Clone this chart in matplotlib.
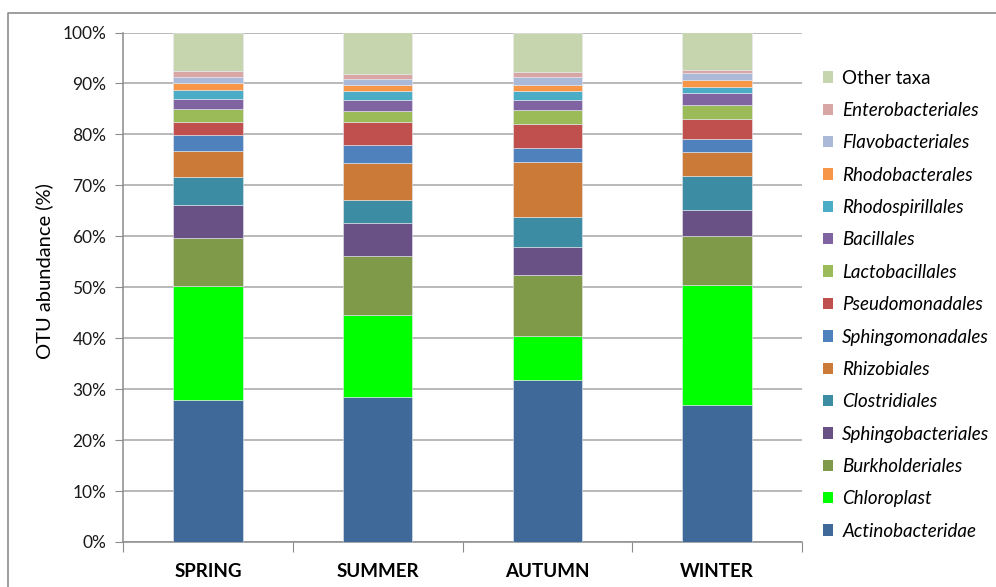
import matplotlib
matplotlib.use('Agg')
import matplotlib.pyplot as plt
import numpy as np
from matplotlib.lines import Line2D

plt.rcParams['font.family'] = ['Lato', 'DejaVu Sans']

seasons = ['SPRING', 'SUMMER', 'AUTUMN', 'WINTER']

# taxa from bottom of the stack to the top
taxa = ['Actinobacteridae', 'Chloroplast', 'Burkholderiales', 'Sphingobacteriales',
        'Clostridiales', 'Rhizobiales', 'Sphingomonadales', 'Pseudomonadales',
        'Lactobacillales', 'Bacillales', 'Rhodospirillales', 'Rhodobacterales',
        'Flavobacteriales', 'Enterobacteriales', 'Other taxa']

# OTU abundance (%) per season, same order as taxa
spring = [27.8, 22.4, 9.5, 6.4, 5.6, 5.1, 3.0, 2.6, 2.5, 2.0, 1.9, 1.2, 1.3, 1.1, 7.6]
summer = [28.5, 16.1, 11.6, 6.4, 4.5, 7.3, 3.5, 4.5, 2.1, 2.3, 1.7, 1.2, 1.2, 0.9, 8.2]
autumn = [31.8, 8.6, 12.0, 5.5, 5.9, 10.8, 2.8, 4.6, 2.7, 2.1, 1.7, 1.1, 1.7, 0.9, 7.8]
winter = [26.9, 23.5, 9.7, 5.0, 6.8, 4.6, 2.6, 3.9, 2.7, 2.4, 1.2, 1.3, 1.4, 0.7, 7.4]

colors = ['#3F6998', '#00FF00', '#7F9A48', '#695185', '#3C8DA3', '#CB7B37',
          '#4F81BD', '#C0504D', '#9BBB59', '#8064A2', '#4BACC6', '#F79646',
          '#AAB9D8', '#D9A6A6', '#C6D5AD']

data = np.array([spring, summer, autumn, winter])

W, H = 996, 587
fig = plt.figure(figsize=(W / 100, H / 100), dpi=100)

# chart frame (Excel style), left and top edge visible
fig.add_artist(Line2D([8 / W, 8 / W, 1.0], [0.0, 1 - 13 / H, 1 - 13 / H],
                      transform=fig.transFigure, color='#8C8C8C', lw=1.2))

ax = fig.add_axes([123 / W, 45 / H, (802 - 123) / W, (542 - 32.5) / H])

x = np.arange(len(seasons))
bottom = np.zeros(len(seasons))
handles = []
for i, name in enumerate(taxa):
    b = ax.bar(x, data[:, i], 0.41, bottom=bottom, color=colors[i],
               edgecolor='#E8E8F0', linewidth=0.4, label=name, zorder=3)
    handles.append(b)
    bottom += data[:, i]

ax.set_xlim(-0.5, 3.5)
ax.set_ylim(0, 100)
ax.set_yticks(np.arange(0, 101, 10))
ax.set_yticklabels([f'{v}%' for v in range(0, 101, 10)], fontsize=12.5, color='#1a1a1a')
ax.yaxis.grid(True, color='#A6A6A6', linewidth=1.1, zorder=0)
ax.set_axisbelow(True)

ax.set_xticks(np.arange(-0.5, 4, 1))
ax.set_xticklabels([])
ax.set_xticks(x, minor=True)
ax.set_xticklabels(seasons, minor=True, fontsize=13.5, fontweight='bold')
ax.tick_params(axis='x', which='minor', length=0, pad=15)
ax.tick_params(axis='x', which='major', length=7, color='#8C8C8C')
ax.tick_params(axis='y', length=6, color='#8C8C8C', pad=6)

for s in ['top', 'right']:
    ax.spines[s].set_visible(False)
for s in ['left', 'bottom']:
    ax.spines[s].set_color('#8C8C8C')
    ax.spines[s].set_linewidth(1.1)

ax.set_ylabel('OTU abundance (%)', fontsize=14.5)
ax.yaxis.set_label_coords(-0.103, 0.531)

leg = fig.legend(handles[::-1], taxa[::-1], loc='upper left',
                 bbox_to_anchor=(815 / W, 1 - 62 / H), frameon=False,
                 fontsize=13.5, handlelength=0.55, handleheight=0.55,
                 handletextpad=0.5, labelspacing=0.82, borderaxespad=0)
for h in leg.legend_handles:
    h.set_edgecolor('none')
for t in leg.get_texts():
    if t.get_text() != 'Other taxa':
        t.set_style('italic')

fig.savefig('out.png', dpi=100)
